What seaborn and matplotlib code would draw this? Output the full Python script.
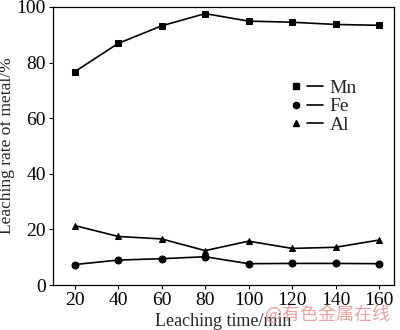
import matplotlib
matplotlib.use("Agg")
import matplotlib.pyplot as plt
import seaborn as sns
import pandas as pd
from matplotlib.lines import Line2D
from matplotlib.legend_handler import HandlerTuple

time_min = [20, 40, 60, 80, 100, 120, 140, 160]
mn = [76.7, 86.9, 93.2, 97.6, 94.9, 94.5, 93.7, 93.4]
fe = [7.4, 9.0, 9.5, 10.2, 7.7, 7.8, 7.8, 7.7]
al = [21.4, 17.5, 16.6, 12.4, 15.8, 13.2, 13.6, 16.2]
metals = ["Mn", "Fe", "Al"]
marker_map = {"Mn": "s", "Fe": "o", "Al": "^"}

df = pd.DataFrame({
    "time": time_min * 3,
    "rate": mn + fe + al,
    "metal": [m for m in metals for _ in time_min],
})

sns.set_theme(style="ticks")
plt.rcParams["font.family"] = ["Liberation Serif", "Noto Sans CJK SC"]

fig = plt.figure(figsize=(4.0, 3.3), dpi=100)
ax = fig.add_axes([0.1325, 0.136, 0.853, 0.843])

sns.lineplot(data=df, x="time", y="rate", style="metal", markers=marker_map,
             dashes=False, color="black", linewidth=1.2, markersize=5,
             markeredgecolor="black", ax=ax, legend=False)

ax.set_xlim(10, 167)
ax.set_ylim(0, 100)
ax.set_xticks(time_min)
ax.set_yticks([0, 20, 40, 60, 80, 100])
ax.tick_params(direction="out", length=3, width=0.8, labelsize=14, colors="black", pad=2)
for s in ax.spines.values():
    s.set_linewidth(0.9)
    s.set_color("black")
    s.set_visible(True)
ax.set_xlabel("Leaching time/min", fontsize=13, labelpad=3)
ax.set_ylabel("Leaching rate of metal/%", fontsize=12.5, labelpad=1)

handles = []
for m in metals:
    mk = Line2D([], [], marker=marker_map[m], color="black", linestyle="none", markersize=4.5)
    ln = Line2D([], [], color="black", linewidth=1.2)
    handles.append((mk, ln))
ax.legend(handles, metals, handler_map={tuple: HandlerTuple(ndivide=None, pad=0.15)},
          loc="upper left", bbox_to_anchor=(0.66, 0.775), frameon=False, fontsize=14,
          handlelength=1.8, handletextpad=0.35, labelspacing=0.05, borderpad=0)

fig.text(0.975, 0.02, "@有色金属在线", color="#e89a9a", fontsize=13, ha="right", va="bottom",
         family=["Noto Sans CJK SC", "DejaVu Sans"], alpha=0.9)

fig.savefig("out.png", dpi=100)
